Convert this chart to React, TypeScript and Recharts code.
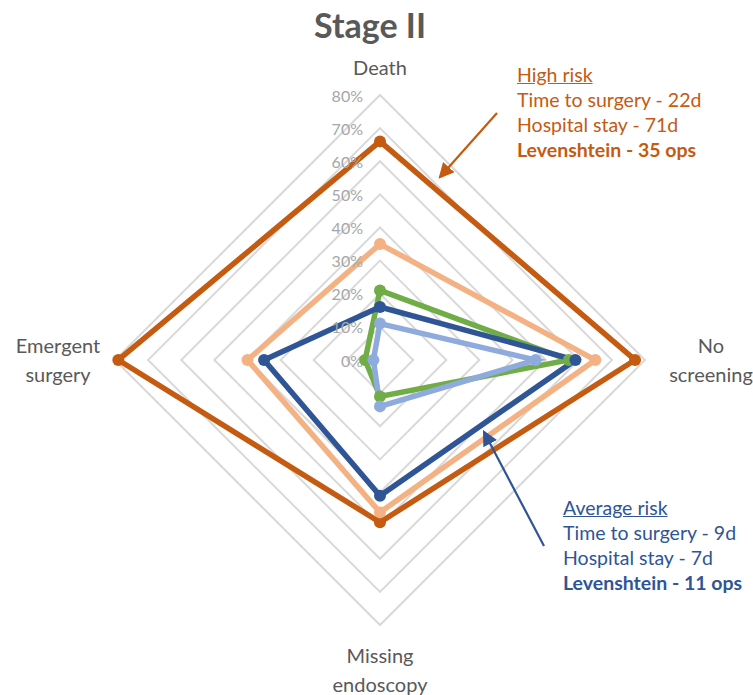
import { RadarChart, Radar, PolarGrid, PolarAngleAxis, PolarRadiusAxis } from "recharts";

const categories = ["Death", "No screening", "Missing endoscopy", "Emergent surgery"];
const highRisk = [66, 77, 49, 79];
const highRiskAlt = [35, 65, 46, 40];
const averageRisk = [16, 59, 41, 35];
const lowRisk = [21, 57, 11, 4.5];
const lowRiskAlt = [11, 47, 14, 2];
const radiusTicks = [0, 10, 20, 30, 40, 50, 60, 70, 80];

const highNotes = ["Time to surgery - 22d", "Hospital stay - 71d", "Levenshtein - 35 ops"];
const averageNotes = ["Time to surgery - 9d", "Hospital stay - 7d", "Levenshtein - 11 ops"];

const data = categories.map((c, i) => ({
    category: c,
    highRisk: highRisk[i],
    highRiskAlt: highRiskAlt[i],
    averageRisk: averageRisk[i],
    lowRisk: lowRisk[i],
    lowRiskAlt: lowRiskAlt[i],
}));

const FONT = "Lato, 'Open Sans', sans-serif";
const ORANGE = "#C55A11";
const BLUE = "#2F5597";

// category labels sit outside the outer ring, split on spaces like the original
const AngleTick = ({ x, y, cx, cy, payload }: any) => {
    const words: string[] = payload.value.split(" ");
    const dx = x - cx;
    const dy = y - cy;
    let tx = x;
    let ty = y;
    if (Math.abs(dy) > Math.abs(dx)) {
        ty = dy < 0 ? y - 20 : y + 22;
    } else {
        tx = dx > 0 ? x + 58 : x - 49;
        ty = y - 15;
    }
    return (
        <text x={tx} y={ty} textAnchor="middle" dominantBaseline="central" fill="#595959" fontSize={20} fontFamily={FONT}>
            {words.map((w, i) => (
                <tspan key={i} x={tx} dy={i === 0 ? 0 : 29}>{w}</tspan>
            ))}
        </text>
    );
};

const RadiusTick = ({ x, y, payload }: any) => (
    <text x={x - 17} y={y} textAnchor="end" dominantBaseline="central" fill="#a6a6a6" fontSize={16} fontFamily={FONT}>
        {payload.value}%
    </text>
);

const dotStyle = (color: string) => ({ r: 6, fill: color, stroke: color, strokeWidth: 0, fillOpacity: 1 });

const noteLine = (color: string): React.CSSProperties => ({ color, fontSize: 19.5, lineHeight: "25px", whiteSpace: "nowrap" });

export default function App() {
    return (
        <div style={{ position: "absolute", left: 0, top: 0, width: 753, height: 695, background: "#fff", fontFamily: FONT }}>
            <RadarChart width={753} height={695} data={data} cx={380} cy={360} outerRadius={265} startAngle={90} endAngle={-270}>
                <PolarGrid gridType="polygon" radialLines={false} stroke="#d9d9d9" strokeWidth={2} />
                <PolarAngleAxis dataKey="category" tick={<AngleTick />} tickLine={false} axisLine={false} />
                <PolarRadiusAxis angle={90} domain={[0, 80]} ticks={radiusTicks} tickCount={9} tick={<RadiusTick />} axisLine={false} tickLine={false} />
                <Radar dataKey="lowRisk" stroke="#70AD47" strokeWidth={5.5} fill="none" fillOpacity={0} dot={dotStyle("#70AD47")} isAnimationActive={false} />
                <Radar dataKey="lowRiskAlt" stroke="#8FAADC" strokeWidth={5.5} fill="none" fillOpacity={0} dot={dotStyle("#8FAADC")} isAnimationActive={false} />
                <Radar dataKey="highRisk" stroke={ORANGE} strokeWidth={5.5} fill="none" fillOpacity={0} dot={dotStyle(ORANGE)} isAnimationActive={false} />
                <Radar dataKey="highRiskAlt" stroke="#F4B183" strokeWidth={5.5} fill="none" fillOpacity={0} dot={dotStyle("#F4B183")} isAnimationActive={false} />
                <Radar dataKey="averageRisk" stroke={BLUE} strokeWidth={5.5} fill="none" fillOpacity={0} dot={dotStyle(BLUE)} isAnimationActive={false} />
            </RadarChart>

            <div style={{ position: "absolute", left: 0, width: 740, top: 4, textAlign: "center", fontSize: 34, fontWeight: 700, color: "#595959" }}>
                Stage II
            </div>

            <div style={{ position: "absolute", left: 517, top: 62 }}>
                <div style={{ ...noteLine(ORANGE), textDecoration: "underline" }}>High risk</div>
                {highNotes.map((t, i) => (
                    <div key={i} style={{ ...noteLine(ORANGE), fontWeight: i === 2 ? 700 : 400 }}>{t}</div>
                ))}
            </div>

            <div style={{ position: "absolute", left: 563, top: 495 }}>
                <div style={{ ...noteLine(BLUE), textDecoration: "underline" }}>Average risk</div>
                {averageNotes.map((t, i) => (
                    <div key={i} style={{ ...noteLine(BLUE), fontWeight: i === 2 ? 700 : 400 }}>{t}</div>
                ))}
            </div>

            <svg width={753} height={695} style={{ position: "absolute", left: 0, top: 0, pointerEvents: "none" }}>
                <defs>
                    <marker id="headO" markerWidth="7" markerHeight="7" refX="6" refY="3.5" orient="auto" markerUnits="strokeWidth">
                        <path d="M0,0 L7,3.5 L0,7 z" fill={ORANGE} />
                    </marker>
                    <marker id="headB" markerWidth="7" markerHeight="7" refX="6" refY="3.5" orient="auto" markerUnits="strokeWidth">
                        <path d="M0,0 L7,3.5 L0,7 z" fill={BLUE} />
                    </marker>
                </defs>
                <line x1={497} y1={113} x2={440} y2={177} stroke={ORANGE} strokeWidth={2.2} markerEnd="url(#headO)" />
                <line x1={544} y1={546} x2={484} y2={432} stroke={BLUE} strokeWidth={2.2} markerEnd="url(#headB)" />
            </svg>
        </div>
    );
}
